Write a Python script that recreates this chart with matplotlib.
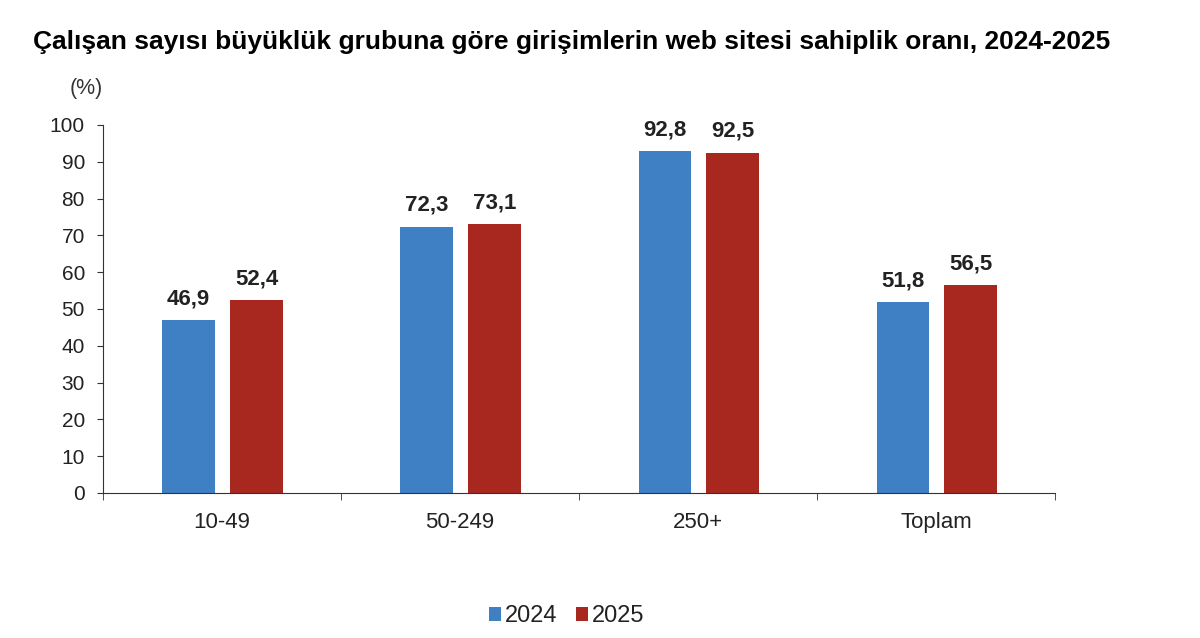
import numpy as np
import matplotlib.pyplot as plt

plt.rcParams['font.family'] = ['Liberation Sans', 'DejaVu Sans']

categories = ['10-49', '50-249', '250+', 'Toplam']
values_2024 = [46.9, 72.3, 92.8, 51.8]
values_2025 = [52.4, 73.1, 92.5, 56.5]
years = ['2024', '2025']
colors = ['#3f7fc4', '#a8271f']

fig = plt.figure(figsize=(12, 6.38), dpi=100)
ax = fig.add_axes([0.0858, 0.2273, 0.7934, 0.5768])

x = np.arange(len(categories))
w = 0.22
b1 = ax.bar(x - 0.14, values_2024, w, color=colors[0], label=years[0])
b2 = ax.bar(x + 0.145, values_2025, w, color=colors[1], label=years[1])

for bars in (b1, b2):
    for r in bars:
        ax.annotate(f"{r.get_height():.1f}".replace('.', ','),
                    (r.get_x() + r.get_width() / 2, r.get_height()),
                    xytext=(0, 11.5), textcoords='offset points',
                    ha='center', va='baseline', fontsize=16, fontweight='bold', color='#222222')

ax.set_xlim(-0.5, len(categories) - 0.5)
ax.set_ylim(0, 100)
ax.set_yticks(np.arange(0, 101, 10))
ax.set_xticks(x)
ax.set_xticklabels(categories)
ax.set_xticks(np.arange(-0.5, len(categories), 1), minor=True)
ax.tick_params(axis='x', which='major', length=0, pad=14, labelsize=16, labelcolor='#222222')
ax.tick_params(axis='x', which='minor', length=5, color='#333333')
ax.tick_params(axis='y', length=4, labelsize=15, color='#333333', labelcolor='#222222', pad=9)
for s in ['top', 'right']:
    ax.spines[s].set_visible(False)
for s in ['left', 'bottom']:
    ax.spines[s].set_color('#333333')

fig.text(0.0275, 0.934, 'Çalışan sayısı büyüklük grubuna göre girişimlerin web sitesi sahiplik oranı, 2024-2025',
         fontsize=19, fontweight='bold', ha='left', va='center')
fig.text(0.0717, 0.862, '(%)', fontsize=15.5, ha='center', va='center', color='#333333')

ax.legend(loc='center', bbox_to_anchor=(0.487, -0.335), ncol=2, frameon=False,
          fontsize=17, handlelength=0.5, handleheight=0.5, handletextpad=0.15, columnspacing=0.8,
          labelcolor='#222222')

fig.savefig('out.png')
